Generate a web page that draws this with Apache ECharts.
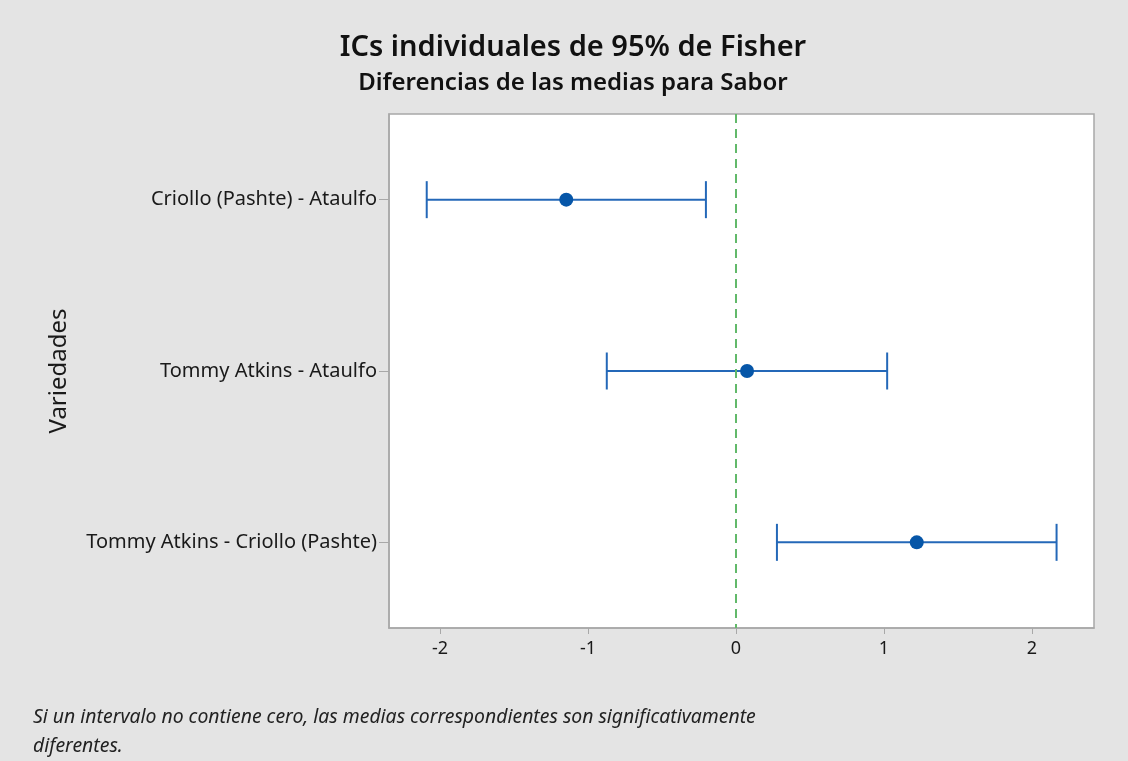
<html style="height: 100%">
<head>
<meta charset="utf-8">
</head>
<body style="height: 100%; margin: 0; background: #e4e4e4">
	<div id="container" style="width: 1128px; height: 761px"></div>

	<script src="https://cdn.jsdelivr.net/npm/echarts@6/dist/echarts.min.js"></script>
	<script type="text/javascript">
		var dom = document.getElementById("container");
		var myChart = echarts.init(dom);

		// comparaciones (de arriba hacia abajo)
		var categories = ['Criollo (Pashte) - Ataulfo', 'Tommy Atkins - Ataulfo', 'Tommy Atkins - Criollo (Pashte)'];
		// diferencias de medias y limites del IC 95%
		var means = [-1.147, 0.075, 1.222];
		var lower = [-2.090, -0.873, 0.277];
		var upper = [-0.203, 1.022, 2.167];
		// marcas del eje x
		var xTicks = [-2, -1, 0, 1, 2];

		var fontFam = 'Noto Sans';
		var blue = '#2468b8';

		var ciData = [];
		for (var i = 0; i < categories.length; i++) {
			ciData.push([i, lower[i], upper[i]]);
		}
		var meanData = [];
		for (var i = 0; i < categories.length; i++) {
			meanData.push([means[i], i]);
		}

		function renderCI(params, api) {
			var idx = api.value(0);
			var p1 = api.coord([api.value(1), idx]);
			var p2 = api.coord([api.value(2), idx]);
			var h = 18.5;
			var st = { stroke: blue, lineWidth: 2 };
			return {
				type: 'group',
				children: [
					{ type: 'line', shape: { x1: p1[0], y1: p1[1], x2: p2[0], y2: p2[1] }, style: st },
					{ type: 'line', shape: { x1: p1[0], y1: p1[1] - h, x2: p1[0], y2: p1[1] + h }, style: st },
					{ type: 'line', shape: { x1: p2[0], y1: p2[1] - h, x2: p2[0], y2: p2[1] + h }, style: st }
				]
			};
		}

		var option = {
			backgroundColor: '#e4e4e4',
			animation: false,
			grid: {
				left: 389,
				right: 34,
				top: 114,
				bottom: 133,
				show: true,
				backgroundColor: '#ffffff',
				borderColor: '#a8a8a8',
				borderWidth: 1.5
			},
			graphic: [
				{ type: 'text', x: 573, y: 48, style: { text: 'ICs individuales de 95% de Fisher', font: '600 29px "Noto Sans"', fill: '#111', align: 'center', verticalAlign: 'middle' } },
				{ type: 'text', x: 573, y: 83, style: { text: 'Diferencias de las medias para Sabor', font: '600 24px "Noto Sans"', fill: '#111', align: 'center', verticalAlign: 'middle' } },
				{ type: 'text', x: 33, y: 717, style: { text: 'Si un intervalo no contiene cero, las medias correspondientes son significativamente', font: 'italic 19.4px "Noto Sans"', fill: '#222', verticalAlign: 'middle' } },
				{ type: 'text', x: 33, y: 746, style: { text: 'diferentes.', font: 'italic 19.4px "Noto Sans"', fill: '#222', verticalAlign: 'middle' } }
			],
			xAxis: {
				type: 'value',
				min: -2.345,
				max: 2.42,
				splitLine: { show: false },
				axisLine: { show: true, onZero: false, lineStyle: { color: '#a8a8a8', width: 1.5 } },
				axisTick: { show: true, length: 6, lineStyle: { color: '#a8a8a8' }, customValues: xTicks },
				axisLabel: { customValues: xTicks, margin: 12, fontSize: 18, color: '#1a1a1a', fontFamily: fontFam }
			},
			yAxis: {
				type: 'category',
				data: categories,
				inverse: true,
				boundaryGap: true,
				name: 'Variedades',
				nameLocation: 'middle',
				nameGap: 318,
				nameRotate: 90,
				nameTextStyle: { fontSize: 24, color: '#1a1a1a', fontFamily: fontFam },
				axisLine: { show: true, onZero: false, lineStyle: { color: '#a8a8a8', width: 1.5 } },
				axisTick: { show: true, alignWithLabel: true, length: 10, lineStyle: { color: '#a8a8a8' } },
				axisLabel: { margin: 12, fontSize: 20, color: '#1a1a1a', fontFamily: fontFam },
				splitLine: { show: false }
			},
			series: [
				{
					type: 'custom',
					renderItem: renderCI,
					encode: { x: [1, 2], y: 0 },
					data: ciData,
					z: 3
				},
				{
					type: 'scatter',
					data: meanData,
					symbol: 'circle',
					symbolSize: 14,
					itemStyle: { color: '#0656a8', opacity: 1 },
					z: 4,
					markLine: {
						silent: true,
						symbol: 'none',
						label: { show: false },
						lineStyle: { color: '#62b96a', type: [9, 6], width: 2 },
						data: [{ xAxis: 0 }]
					}
				}
			]
		};

		myChart.setOption(option);
	</script>
</body>
</html>
